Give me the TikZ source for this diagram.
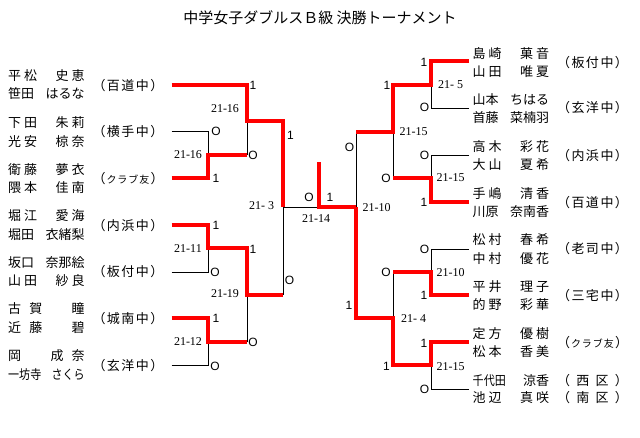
\documentclass[tikz,border=0pt]{standalone}
\usepackage{fontspec}
\usepackage{graphicx}
\newfontfamily\jpfont{Noto Sans CJK JP}
\newfontfamily\ptfont{Liberation Sans}
\newfontfamily\scfont{Liberation Serif}
\newcommand\nmline[1]{\makebox[76.5pt][l]{#1}}
\newcommand\lbline[1]{\makebox[71pt][l]{#1}}
\newcommand\ph{\phantom{国}}
\newcommand\ts[4]{#1\hspace{3pt}#2\hfill #3\hspace{3pt}#4}
\newcommand\cnd[1]{\scalebox{0.85}[1]{#1}}
\begin{document}
\begin{tikzpicture}[x=1pt,y=-1pt,
  win/.style={draw=red,line width=3.5pt},
  lose/.style={draw=black,line width=0.9pt},
  namenode/.style={font=\jpfont\fontsize{13}{15}\selectfont,inner sep=0pt,anchor=west},
  clubnode/.style={font=\jpfont\fontsize{13}{15}\selectfont,inner sep=0pt},
  ptnode/.style={font=\ptfont\fontsize{12}{14}\selectfont,inner sep=0pt},
  scnode/.style={font=\scfont\fontsize{12}{14}\selectfont,inner sep=0pt},
  titlenode/.style={font=\jpfont\fontsize{15}{17}\selectfont,inner sep=0pt}]
\useasboundingbox (0,0) rectangle (640,437);
\fill[white] (0,0) rectangle (640,437);

\node[titlenode] (title) at (320,18) {中学女子ダブルスＢ級 決勝トーナメント};

% ---------- left teams ----------
\node[namenode] (l1a) at (8,76)  {\nmline{\ts{平}{松}{史}{恵}}};
\node[namenode] (l1b) at (8,94)  {\nmline{笹田\hfill はるな}};
\node[clubnode] (l1c) at (128,85.5) {\lbline{（\hfill 百\hfill 道\hfill 中\hfill ）}};
\node[namenode] (l2a) at (8,122.5) {\nmline{\ts{下}{田}{朱}{莉}}};
\node[namenode] (l2b) at (8,141.5) {\nmline{\ts{光}{安}{椋}{奈}}};
\node[clubnode] (l2c) at (128,132) {\lbline{（\hfill 横\hfill 手\hfill 中\hfill ）}};
\node[namenode] (l3a) at (8,169.5) {\nmline{\ts{衛}{藤}{夢}{衣}}};
\node[namenode] (l3b) at (8,188) {\nmline{\ts{隈}{本}{佳}{南}}};
\node[clubnode] (l3c) at (128,178.5) {\lbline{（\hfill {\fontsize{10}{12}\selectfont ク\hfill ラ\hfill ブ\hfill 友}\hfill ）}};
\node[namenode] (l4a) at (8,216) {\nmline{\ts{堀}{江}{愛}{海}}};
\node[namenode] (l4b) at (8,234.5) {\nmline{堀田\hfill 衣緒梨}};
\node[clubnode] (l4c) at (128,225.5) {\lbline{（\hfill 内\hfill 浜\hfill 中\hfill ）}};
\node[namenode] (l5a) at (8,262.5) {\nmline{坂口\hfill 奈那絵}};
\node[namenode] (l5b) at (8,281) {\nmline{\ts{山}{田}{紗}{良}}};
\node[clubnode] (l5c) at (128,272) {\lbline{（\hfill 板\hfill 付\hfill 中\hfill ）}};
\node[namenode] (l6a) at (8,309) {\nmline{古\hfill 賀\hfill \ph\hfill 瞳}};
\node[namenode] (l6b) at (8,327.5) {\nmline{近\hfill 藤\hfill \ph\hfill 碧}};
\node[clubnode] (l6c) at (128,318.5) {\lbline{（\hfill 城\hfill 南\hfill 中\hfill ）}};
\node[namenode] (l7a) at (8,356) {\nmline{岡\hfill \ph\hfill 成\hfill 奈}};
\node[namenode] (l7b) at (8,374.5) {\nmline{\cnd{一坊寺}\hfill \cnd{さくら}}};
\node[clubnode] (l7c) at (128,365.5) {\lbline{（\hfill 玄\hfill 洋\hfill 中\hfill ）}};

% ---------- right teams ----------
\node[namenode] (r1a) at (472.5,53.5) {\nmline{\ts{島}{崎}{菓}{音}}};
\node[namenode] (r1b) at (472.5,72) {\nmline{\ts{山}{田}{唯}{夏}}};
\node[clubnode] (r1c) at (592.5,62.5) {\lbline{（\hfill 板\hfill 付\hfill 中\hfill ）}};
\node[namenode] (r2a) at (472.5,100) {\nmline{山本\hfill ちはる}};
\node[namenode] (r2b) at (472.5,118) {\nmline{首藤\hfill 菜楠羽}};
\node[clubnode] (r2c) at (592.5,108) {\lbline{（\hfill 玄\hfill 洋\hfill 中\hfill ）}};
\node[namenode] (r3a) at (472.5,146.5) {\nmline{\ts{高}{木}{彩}{花}}};
\node[namenode] (r3b) at (472.5,165) {\nmline{\ts{大}{山}{夏}{希}}};
\node[clubnode] (r3c) at (592.5,155.5) {\lbline{（\hfill 内\hfill 浜\hfill 中\hfill ）}};
\node[namenode] (r4a) at (472.5,193.5) {\nmline{\ts{手}{嶋}{清}{香}}};
\node[namenode] (r4b) at (472.5,212) {\nmline{川原\hfill 奈南香}};
\node[clubnode] (r4c) at (592.5,202.5) {\lbline{（\hfill 百\hfill 道\hfill 中\hfill ）}};
\node[namenode] (r5a) at (472.5,240) {\nmline{\ts{松}{村}{春}{希}}};
\node[namenode] (r5b) at (472.5,258.5) {\nmline{\ts{中}{村}{優}{花}}};
\node[clubnode] (r5c) at (592.5,249) {\lbline{（\hfill 老\hfill 司\hfill 中\hfill ）}};
\node[namenode] (r6a) at (472.5,286.5) {\nmline{\ts{平}{井}{理}{子}}};
\node[namenode] (r6b) at (472.5,305) {\nmline{\ts{的}{野}{彩}{華}}};
\node[clubnode] (r6c) at (592.5,296) {\lbline{（\hfill 三\hfill 宅\hfill 中\hfill ）}};
\node[namenode] (r7a) at (472.5,333.5) {\nmline{\ts{定}{方}{優}{樹}}};
\node[namenode] (r7b) at (472.5,352) {\nmline{\ts{松}{本}{香}{美}}};
\node[clubnode] (r7c) at (592.5,342.5) {\lbline{（\hfill {\fontsize{10}{12}\selectfont ク\hfill ラ\hfill ブ\hfill 友}\hfill ）}};
\node[namenode] (r8a) at (472.5,381) {\nmline{\cnd{千代田}\hfill 涼香}};
\node[namenode] (r8b) at (472.5,398) {\nmline{\ts{池}{辺}{真}{咲}}};
\node[clubnode] (r8c) at (592.5,381) {\lbline{（\hfill 西\hfill 区\hfill ）}};
\node[clubnode] (r8d) at (592.5,397.5) {\lbline{（\hfill 南\hfill 区\hfill ）}};

% ---------- bracket coordinates ----------
\coordinate (a1) at (171.5,85);  \coordinate (a2) at (171.5,131);
\coordinate (a3) at (171.5,178); \coordinate (a4) at (171.5,225);
\coordinate (a5) at (171.5,272); \coordinate (a6) at (171.5,318);
\coordinate (a7) at (171.5,365);
\coordinate (m12) at (208,155); \coordinate (m45) at (208,248);
\coordinate (m67) at (208,342);
\coordinate (q1) at (247,121); \coordinate (q2) at (247,295);
\coordinate (s) at (283,207);
\coordinate (f) at (319,162);
\coordinate (t) at (356,207);
\coordinate (rr1) at (393,132); \coordinate (rr2) at (393,318);
\coordinate (n12) at (431,85);  \coordinate (n34) at (431,178);
\coordinate (n56) at (431,272); \coordinate (n78) at (431,365);
\coordinate (b1) at (469,61);  \coordinate (b2) at (469,108);
\coordinate (b3) at (469,155); \coordinate (b4) at (469,202);
\coordinate (b5) at (469,249); \coordinate (b6) at (469,295);
\coordinate (b7) at (469,342); \coordinate (b8) at (469,389);

% ---------- losing lines ----------
\draw[lose] (a2) -| (m12);
\draw[lose] (m12 -| q1) -- (q1);
\draw[lose] (s) -- (s |- q2);
\draw[lose] (a5) -| (m45);
\draw[lose] (a7) -| (m67);
\draw[lose] (m67 -| q2) -- (q2);
\draw[lose] (s) -- (f |- s);
\draw[lose] (t) -- (t |- rr1);
\draw[lose] (b2) -| (n12);
\draw[lose] (rr1) -- (rr1 |- n34);
\draw[lose] (b3) -| (n34);
\draw[lose] (b5) -| (n56);
\draw[lose] (rr2) -- (rr2 |- n56);
\draw[lose] (b8) -| (n78);

% ---------- winning lines ----------
\draw[win] (a1) -| (q1) -| (s);
\draw[win] (a3) -| (m12) -- (m12 -| q1);
\draw[win] (a4) -| (m45) -| (q2) -- (q2 -| s);
\draw[win] (a6) -| (m67) -- (m67 -| q2);
\draw[win] (f) |- (t);
\draw[win] (t) |- (rr2) |- (n78) |- (b7);
\draw[win] (b6) -| (n56) -- (n56 -| rr2);
\draw[win] (b1) -| (n12) -| (rr1) -- (rr1 -| t);
\draw[win] (b4) -| (n34) -- (n34 -| rr1);

% ---------- game points ----------
\node[ptnode] (p1)  at (253,85)    {1};
\node[ptnode] (p2)  at (216,131.5) {O};
\node[ptnode] (p3)  at (216,178)   {1};
\node[ptnode] (p4)  at (253,155)   {O};
\node[ptnode] (p5)  at (290.5,135) {1};
\node[ptnode] (p6)  at (216,225)   {1};
\node[ptnode] (p7)  at (253,249)   {1};
\node[ptnode] (p8)  at (215,272)   {O};
\node[ptnode] (p9)  at (289.5,280) {O};
\node[ptnode] (p10) at (216,318)   {1};
\node[ptnode] (p11) at (253,342.5) {O};
\node[ptnode] (p12) at (215,366)   {O};
\node[ptnode] (p13) at (309,197)   {O};
\node[ptnode] (p14) at (330,197)   {1};
\node[ptnode] (p15) at (424,62.5)  {1};
\node[ptnode] (p16) at (387,85)    {1};
\node[ptnode] (p17) at (424.5,107.5) {O};
\node[ptnode] (p18) at (349.5,147) {O};
\node[ptnode] (p19) at (424.5,155.5) {O};
\node[ptnode] (p20) at (386,178)   {O};
\node[ptnode] (p21) at (424,202)   {1};
\node[ptnode] (p22) at (424.5,249) {O};
\node[ptnode] (p23) at (386,272.5) {O};
\node[ptnode] (p24) at (424,295)   {1};
\node[ptnode] (p25) at (349,305)   {1};
\node[ptnode] (p26) at (424,343)   {1};
\node[ptnode] (p27) at (386.5,366.5) {1};
\node[ptnode] (p28) at (424.5,389) {O};

% ---------- match scores ----------
\node[scnode] (s1)  at (225,108.5)   {21-16};
\node[scnode] (s2)  at (188,155)     {21-16};
\node[scnode] (s3)  at (188,249)     {21-11};
\node[scnode] (s4)  at (225,294)     {21-19};
\node[scnode] (s5)  at (188,341.5)   {21-12};
\node[scnode] (s6)  at (261.5,206)   {21- 3};
\node[scnode] (s7)  at (316,219)     {21-14};
\node[scnode] (s8)  at (376.5,207.5) {21-10};
\node[scnode] (s9)  at (450.5,85)    {21- 5};
\node[scnode] (s10) at (413.5,131.5) {21-15};
\node[scnode] (s11) at (450.5,177.5) {21-15};
\node[scnode] (s12) at (450.5,272.5) {21-10};
\node[scnode] (s13) at (413.5,318.5) {21- 4};
\node[scnode] (s14) at (450.5,366.5) {21-15};
\end{tikzpicture}
\end{document}
